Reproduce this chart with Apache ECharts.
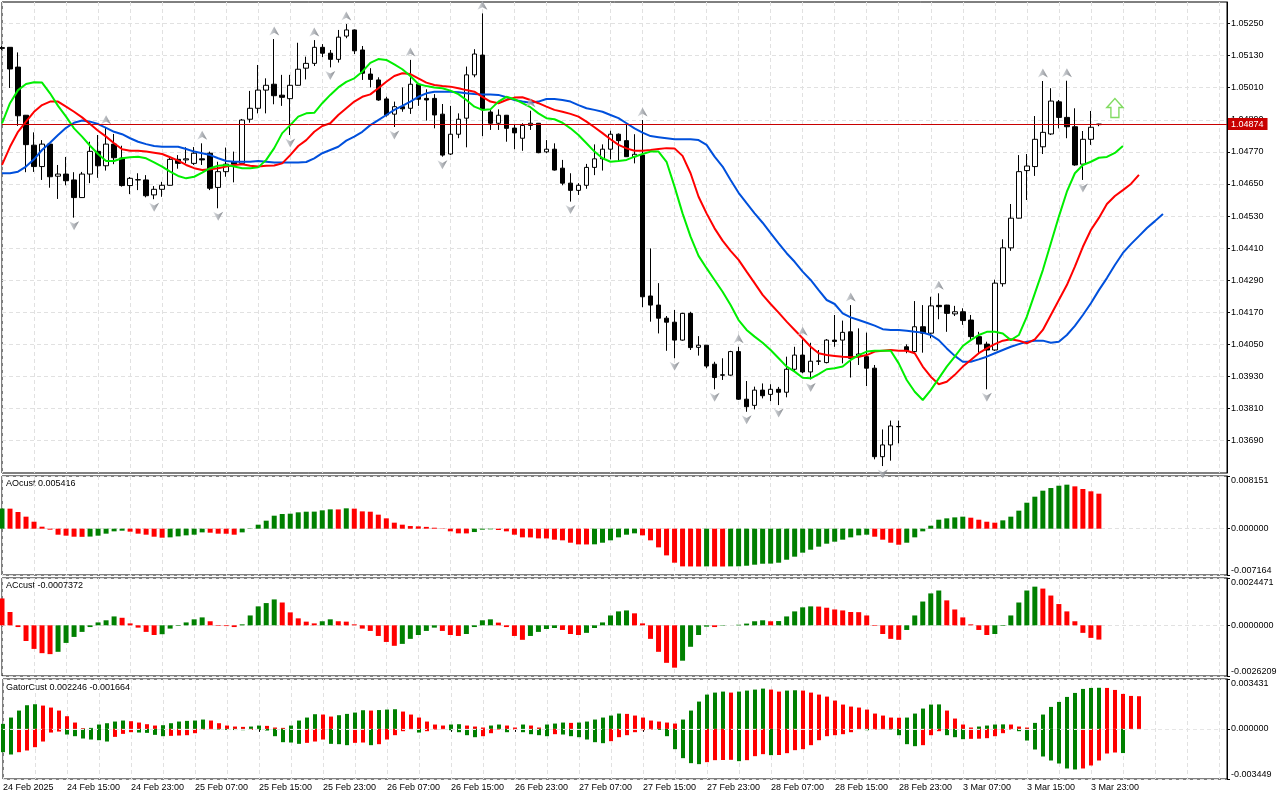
<!DOCTYPE html>
<html>
<head>
<meta charset="utf-8">
<script src="https://cdn.jsdelivr.net/npm/echarts/dist/echarts.min.js"></script>
<style>
  html, body { margin: 0; padding: 0; background: #fff; }
  #chart { width: 1280px; height: 800px; }
</style>
</head>
<body>
<div id="chart"></div>
<script>
// EURUSD H1, 24 Feb 07:00 .. 4 Mar 00:00 ; [open, high, low, close]
const ohlc = [
  [1.05157,1.05166,1.05151,1.05160],[1.05161,1.05162,1.05009,1.05080],[1.05087,1.05142,1.04867,1.04905],[1.04907,1.04908,1.04694,1.04797],[1.04795,1.04843,1.04695,1.04715],
  [1.04715,1.04814,1.04665,1.04799],[1.04799,1.04800,1.04636,1.04677],[1.04679,1.04721,1.04594,1.04687],[1.04687,1.04751,1.04645,1.04662],[1.04665,1.04694,1.04524,1.04599],
  [1.04599,1.04695,1.04598,1.04687],[1.04687,1.04808,1.04653,1.04772],[1.04772,1.04833,1.04673,1.04718],[1.04718,1.04860,1.04700,1.04799],[1.04799,1.04837,1.04724,1.04748],
  [1.04747,1.04793,1.04640,1.04644],[1.04644,1.04676,1.04612,1.04671],[1.04666,1.04690,1.04627,1.04665],[1.04665,1.04683,1.04600,1.04606],[1.04609,1.04642,1.04593,1.04630],
  [1.04630,1.04658,1.04602,1.04645],[1.04645,1.04752,1.04644,1.04742],[1.04742,1.04758,1.04707,1.04727],[1.04740,1.04787,1.04727,1.04744],[1.04727,1.04788,1.04721,1.04765],
  [1.04744,1.04802,1.04721,1.04740],[1.04765,1.04771,1.04627,1.04634],[1.04637,1.04733,1.04559,1.04696],[1.04696,1.04786,1.04677,1.04724],[1.04733,1.04771,1.04656,1.04724],
  [1.04727,1.04893,1.04726,1.04889],[1.04892,1.04998,1.04879,1.04933],[1.04933,1.05095,1.04914,1.05001],[1.05001,1.05045,1.04914,1.05019],[1.05023,1.05192,1.04948,1.04980],
  [1.04982,1.05058,1.04942,1.04974],[1.04969,1.05058,1.04833,1.05019],[1.05019,1.05178,1.05018,1.05079],[1.05083,1.05126,1.05041,1.05101],[1.05101,1.05188,1.05091,1.05161],
  [1.05161,1.05173,1.05124,1.05139],[1.05139,1.05151,1.05086,1.05116],[1.05116,1.05226,1.05104,1.05199],[1.05203,1.05248,1.05195,1.05226],[1.05226,1.05228,1.05136,1.05148],
  [1.05151,1.05166,1.05039,1.05064],[1.05061,1.05083,1.05011,1.05041],[1.05039,1.05049,1.04961,1.04964],[1.04968,1.04976,1.04902,1.04908],[1.04911,1.04958,1.04863,1.04939],
  [1.04939,1.05011,1.04920,1.04931],[1.04933,1.05114,1.04912,1.05023],[1.05023,1.05024,1.04942,1.04967],[1.04970,1.05004,1.04887,1.04964],[1.04970,1.04986,1.04858,1.04908],
  [1.04911,1.04949,1.04752,1.04758],[1.04762,1.04942,1.04758,1.04836],[1.04836,1.04914,1.04821,1.04892],[1.04896,1.05089,1.04787,1.05058],[1.05058,1.05154,1.05049,1.05136],
  [1.05132,1.05288,1.04829,1.04927],[1.04919,1.04929,1.04852,1.04877],[1.04877,1.04929,1.04852,1.04907],[1.04907,1.04908,1.04808,1.04858],[1.04859,1.04874,1.04780,1.04841],
  [1.04821,1.04877,1.04774,1.04869],[1.04869,1.04924,1.04852,1.04877],[1.04877,1.04878,1.04765,1.04767],[1.04770,1.04814,1.04765,1.04780],[1.04780,1.04802,1.04700,1.04702],
  [1.04709,1.04740,1.04645,1.04653],[1.04653,1.04690,1.04584,1.04626],[1.04626,1.04653,1.04609,1.04645],[1.04645,1.04725,1.04632,1.04712],[1.04712,1.04798,1.04683,1.04744],
  [1.04744,1.04798,1.04700,1.04780],[1.04780,1.04849,1.04742,1.04836],[1.04836,1.04839,1.04736,1.04812],[1.04812,1.04874,1.04751,1.04752],[1.04752,1.04836,1.04727,1.04761],
  [1.04758,1.04889,1.04189,1.04228],[1.04231,1.04409,1.04135,1.04197],[1.04197,1.04279,1.04091,1.04148],[1.04148,1.04156,1.04026,1.04133],[1.04133,1.04179,1.03998,1.04066],
  [1.04066,1.04168,1.04064,1.04166],[1.04166,1.04172,1.04029,1.04038],[1.04039,1.04081,1.04008,1.04047],[1.04047,1.04048,1.03961,1.03969],[1.03976,1.03985,1.03882,1.03926],
  [1.03936,1.03998,1.03917,1.03935],[1.03935,1.04026,1.03933,1.04023],[1.04023,1.04041,1.03842,1.03845],[1.03845,1.03913,1.03798,1.03817],[1.03822,1.03892,1.03807,1.03879],
  [1.03879,1.03904,1.03848,1.03858],[1.03863,1.03901,1.03838,1.03882],[1.03882,1.03891,1.03823,1.03871],[1.03871,1.04004,1.03852,1.03957],[1.03957,1.04041,1.03948,1.04010],
  [1.04010,1.04069,1.03942,1.03947],[1.03947,1.04056,1.03919,1.03987],[1.03988,1.04029,1.03973,1.03987],[1.03982,1.04070,1.03979,1.04066],[1.04066,1.04160,1.04041,1.04061],
  [1.04066,1.04139,1.03979,1.04095],[1.04097,1.04197,1.03926,1.03998],[1.04004,1.04110,1.03973,1.04014],[1.04004,1.04094,1.03894,1.03961],[1.03961,1.03973,1.03620,1.03630],
  [1.03630,1.03732,1.03595,1.03674],[1.03674,1.03765,1.03615,1.03745],[1.03743,1.03765,1.03680,1.03742],[1.04041,1.04050,1.04017,1.04026],[1.04023,1.04212,1.04017,1.04116],
  [1.04116,1.04197,1.04019,1.04092],[1.04092,1.04228,1.04073,1.04194],[1.04196,1.04241,1.04144,1.04191],[1.04197,1.04198,1.04097,1.04166],[1.04164,1.04194,1.04156,1.04172],
  [1.04172,1.04185,1.04123,1.04139],[1.04141,1.04160,1.04064,1.04079],[1.04079,1.04097,1.04014,1.04051],[1.04051,1.04060,1.03882,1.04029],[1.04029,1.04292,1.04026,1.04279],
  [1.04277,1.04443,1.04266,1.04411],[1.04411,1.04575,1.04400,1.04522],[1.04522,1.04758,1.04521,1.04696],[1.04700,1.04762,1.04590,1.04717],[1.04715,1.04904,1.04680,1.04817],
  [1.04789,1.05035,1.04762,1.04843],[1.04837,1.05008,1.04833,1.04960],[1.04957,1.04964,1.04858,1.04899],[1.04899,1.05036,1.04821,1.04864],[1.04864,1.04933,1.04718,1.04721],
  [1.04724,1.04848,1.04665,1.04817],[1.04817,1.04923,1.04796,1.04862],[1.04872,1.04875,1.04866,1.04874]
];

// alligator lines (already shifted: lips +3, teeth +5, jaw +8 bars)
const lips = [
  1.04877,1.04952,1.05001,1.05024,1.05030,1.05029,1.04989,1.04942,1.04902,1.04858,
  1.04827,1.04793,1.04762,1.04736,1.04736,1.04746,1.04750,1.04752,1.04746,1.04731,
  1.04715,1.04696,1.04680,1.04671,1.04677,1.04692,1.04709,1.04718,1.04721,1.04715,
  1.04709,1.04709,1.04712,1.04740,1.04784,1.04840,1.04870,1.04902,1.04914,1.04916,
  1.04952,1.04983,1.05011,1.05032,1.05045,1.05070,1.05103,1.05117,1.05114,1.05097,
  1.05079,1.05054,1.05024,1.05016,1.05011,1.05008,1.04999,1.04986,1.04964,1.04939,
  1.04927,1.04929,1.04958,1.04976,1.04967,1.04952,1.04937,1.04914,1.04896,1.04892,
  1.04879,1.04858,1.04833,1.04802,1.04771,1.04746,1.04733,1.04736,1.04740,1.04752,
  1.04762,1.04771,1.04771,1.04733,1.04640,1.04540,1.04453,1.04381,1.04335,1.04291,
  1.04247,1.04197,1.04141,1.04104,1.04079,1.04056,1.04029,1.03998,1.03967,1.03948,
  1.03925,1.03923,1.03939,1.03957,1.03961,1.03967,1.03992,1.04010,1.04023,1.04026,
  1.04026,1.04026,1.03979,1.03917,1.03873,1.03842,1.03879,1.03923,1.03967,1.04004,
  1.04044,1.04066,1.04085,1.04097,1.04097,1.04091,1.04066,1.04085,1.04154,1.04241,
  1.04328,1.04428,1.04528,1.04621,1.04690,1.04721,1.04733,1.04748,1.04751,1.04766,1.04792
];
const teeth = [
  1.04721,1.04789,1.04845,1.04883,1.04920,1.04945,1.04958,1.04958,1.04939,1.04920,
  1.04899,1.04874,1.04849,1.04827,1.04802,1.04780,1.04774,1.04774,1.04771,1.04767,
  1.04762,1.04750,1.04737,1.04721,1.04709,1.04702,1.04705,1.04709,1.04715,1.04721,
  1.04724,1.04718,1.04715,1.04718,1.04719,1.04727,1.04758,1.04792,1.04814,1.04845,
  1.04867,1.04877,1.04908,1.04933,1.04958,1.04976,1.04985,1.05008,1.05032,1.05054,
  1.05064,1.05061,1.05045,1.05029,1.05020,1.05016,1.05014,1.05008,1.05001,1.04995,
  1.04976,1.04958,1.04952,1.04964,1.04973,1.04974,1.04964,1.04952,1.04939,1.04927,
  1.04920,1.04912,1.04902,1.04883,1.04862,1.04840,1.04817,1.04796,1.04783,1.04774,
  1.04774,1.04777,1.04781,1.04784,1.04783,1.04755,1.04690,1.04602,1.04540,1.04484,
  1.04438,1.04400,1.04366,1.04322,1.04279,1.04235,1.04201,1.04169,1.04135,1.04104,
  1.04073,1.04041,1.04017,1.04010,1.04007,1.04004,1.04002,1.04004,1.04010,1.04023,
  1.04026,1.04029,1.04026,1.04026,1.04017,1.03967,1.03929,1.03901,1.03910,1.03936,
  1.03967,1.03992,1.04017,1.04035,1.04051,1.04064,1.04069,1.04064,1.04054,1.04069,
  1.04104,1.04160,1.04216,1.04272,1.04341,1.04415,1.04478,1.04523,1.04575,1.04605,
  1.04627,1.04650,1.04684
];
const jaw = [
  1.04690,1.04690,1.04696,1.04715,1.04742,1.04777,1.04804,1.04833,1.04860,1.04879,
  1.04887,1.04883,1.04874,1.04860,1.04845,1.04836,1.04821,1.04808,1.04799,1.04792,
  1.04789,1.04789,1.04789,1.04781,1.04771,1.04765,1.04758,1.04746,1.04736,1.04733,
  1.04733,1.04733,1.04736,1.04733,1.04730,1.04730,1.04730,1.04730,1.04732,1.04746,
  1.04765,1.04777,1.04789,1.04812,1.04827,1.04845,1.04870,1.04889,1.04908,1.04927,
  1.04942,1.04958,1.04976,1.04989,1.04995,1.04995,1.04995,1.04993,1.04989,1.04986,
  1.04985,1.04985,1.04983,1.04974,1.04964,1.04958,1.04954,1.04958,1.04968,1.04968,
  1.04964,1.04958,1.04945,1.04933,1.04927,1.04920,1.04908,1.04896,1.04877,1.04858,
  1.04842,1.04829,1.04825,1.04821,1.04817,1.04817,1.04817,1.04814,1.04796,1.04752,
  1.04715,1.04665,1.04617,1.04578,1.04540,1.04505,1.04466,1.04428,1.04391,1.04359,
  1.04322,1.04291,1.04253,1.04216,1.04201,1.04166,1.04151,1.04141,1.04131,1.04120,
  1.04107,1.04104,1.04104,1.04101,1.04097,1.04094,1.04085,1.04066,1.04035,1.04007,
  1.03985,1.03985,1.03994,1.04004,1.04017,1.04029,1.04041,1.04051,1.04060,1.04064,
  1.04064,1.04056,1.04060,1.04085,1.04119,1.04160,1.04204,1.04253,1.04298,1.04347,
  1.04392,1.04425,1.04455,1.04485,1.04511,1.04538
];

const upFractals = [13, 25, 34, 39, 43, 51, 60, 66, 80, 92, 100, 106, 117, 130, 133];
const downFractals = [9, 19, 27, 36, 41, 49, 55, 71, 84, 89, 93, 97, 101, 110, 123, 135];
const buySignals = [[139, 1.04934]];

const ao = [
  0.00312,0.0031,0.00258,0.00186,0.00108,0.00031,-0.00015,-0.00093,-0.00108,-0.00124,
  -0.00126,-0.00122,-0.00108,-0.00077,-0.00041,-0.00031,-0.00046,-0.00077,-0.00093,-0.00124,
  -0.00139,-0.00134,-0.00119,-0.00103,-0.00093,-0.00057,-0.00062,-0.00077,-0.00078,-0.00093,
  -0.00057,-0.00005,0.00062,0.00124,0.00201,0.00227,0.00232,0.00253,0.00263,0.00264,
  0.00284,0.00299,0.00298,0.00315,0.0031,0.00268,0.00263,0.00217,0.0016,0.00093,
  0.00062,0.00041,0.00036,0.00028,0.00015,-0.00005,-0.00041,-0.00072,-0.00073,-0.00052,
  -0.00015,-0.0001,-0.0002,-0.00041,-0.00093,-0.00134,-0.00135,-0.0015,-0.00151,-0.0017,
  -0.0018,-0.00217,-0.00243,-0.00244,-0.00242,-0.00217,-0.0018,-0.00134,-0.00093,-0.00072,
  -0.00103,-0.0018,-0.00289,-0.00413,-0.00526,-0.00583,-0.00584,-0.00585,-0.00583,-0.00584,
  -0.00585,-0.00583,-0.00582,-0.00573,-0.00557,-0.00542,-0.0054,-0.00526,-0.0048,-0.00433,
  -0.00371,-0.00325,-0.00278,-0.00232,-0.00201,-0.0017,-0.00134,-0.00103,-0.00093,-0.00124,
  -0.0017,-0.00217,-0.00248,-0.00217,-0.00134,-0.00041,0.00046,0.00139,0.0016,0.00175,
  0.00186,0.0017,0.00139,0.00108,0.00093,0.00129,0.00186,0.00279,0.00402,0.00495,
  0.00588,0.00629,0.00665,0.00681,0.00655,0.00614,0.00578,0.005416
];
const ac = [
  0.00139,0.00069,-0.00009,-0.00081,-0.00122,-0.00144,-0.00149,-0.00137,-0.00091,-0.0006,
  -0.00034,-0.00009,0.00015,0.00026,0.00046,0.00039,0.0001,-0.00012,-0.00034,-0.0005,
  -0.00046,-0.00017,-0.00003,0.00015,0.00031,0.00041,0.00021,-0.00003,-0.00004,-0.00009,
  0.00005,0.00051,0.00098,0.00115,0.00134,0.00118,0.00067,0.00036,0.00019,0.0001,
  0.00021,0.00031,0.00021,0.00019,0.00005,-0.00017,-0.00029,-0.00055,-0.00086,-0.00106,
  -0.00096,-0.0007,-0.0005,-0.00029,-0.00012,-0.00029,-0.0005,-0.00055,-0.00045,-0.00009,
  0.00026,0.00031,0.00014,-0.00009,-0.00055,-0.00075,-0.00055,-0.00034,-0.00019,-0.00014,
  -0.00024,-0.00045,-0.0005,-0.00039,-0.00014,0.00015,0.00051,0.00072,0.00077,0.00062,
  0.0001,-0.0007,-0.00137,-0.00194,-0.00219,-0.00183,-0.00111,-0.0005,-0.00007,-0.00009,
  -0.00002,0.0,0.00003,0.00009,0.00021,0.00026,0.00021,0.00022,0.00046,0.00072,
  0.00093,0.00098,0.00097,0.00091,0.00082,0.00077,0.00069,0.00068,0.00051,-0.00003,
  -0.00045,-0.0007,-0.00075,-0.00024,0.00051,0.00123,0.00165,0.0018,0.00129,0.00082,
  0.00041,0.00005,-0.00024,-0.0005,-0.00045,-0.00003,0.00051,0.00118,0.0018,0.002,
  0.0019,0.00154,0.0011,0.00072,0.00021,-0.00039,-0.00065,-0.0007372
];
const gatorUp = [
  0.000344,0.000779,0.00126,0.001626,0.001695,0.001603,0.001466,0.00126,0.00087,0.000435,
  0.000046,0.000069,0.000298,0.000389,0.000504,0.000573,0.000527,0.000435,0.000321,0.000229,
  0.000252,0.000389,0.000504,0.00055,0.000573,0.000641,0.000573,0.000389,0.000229,0.00016,
  0.000137,0.00016,0.000229,0.000206,0.000092,0.000069,0.000229,0.000573,0.000779,0.001008,
  0.000985,0.000847,0.000939,0.00103,0.001122,0.001282,0.00126,0.001294,0.001328,0.001351,
  0.001191,0.000985,0.000779,0.000504,0.000298,0.000229,0.000298,0.000321,0.000229,0.00016,
  0.000092,0.000229,0.000298,0.000229,0.000092,0.000298,0.000229,0.000092,0.000298,0.000366,
  0.000435,0.000412,0.000435,0.000504,0.000641,0.000779,0.000916,0.001053,0.00103,0.000916,
  0.000779,0.000573,0.000504,0.000435,0.000366,0.000641,0.00126,0.001878,0.002359,0.002496,
  0.002565,0.002496,0.002565,0.002634,0.002702,0.002771,0.002702,0.002565,0.002634,0.002656,
  0.002634,0.002496,0.002359,0.002221,0.001947,0.001672,0.001534,0.001466,0.001328,0.001053,
  0.000916,0.000779,0.000767,0.000779,0.001053,0.001397,0.001672,0.001683,0.00126,0.00071,
  0.000298,0.000092,0.00016,0.000229,0.000298,0.000309,0.000298,0.00016,0.000092,0.000412,
  0.000985,0.001511,0.001855,0.002198,0.002473,0.002748,0.002817,0.002828,0.002817,0.002679,
  0.002405,0.002267,0.002246
];
const gatorDown = [
  -0.001603,-0.001763,-0.001603,-0.001489,-0.00126,-0.00087,-0.000252,-0.000183,-0.000389,-0.000504,
  -0.000664,-0.000733,-0.000779,-0.00087,-0.00055,-0.000344,-0.000229,-0.000252,-0.000275,-0.000412,
  -0.000504,-0.000481,-0.000458,-0.000435,-0.000298,-0.000046,-0.000023,-0.000046,-0.000069,-0.00008,
  -0.000092,-0.000069,-0.00008,-0.000115,-0.000504,-0.000916,-0.000939,-0.00103,-0.000962,-0.00087,
  -0.000733,-0.00103,-0.001053,-0.001122,-0.000962,-0.000939,-0.001122,-0.001053,-0.000733,-0.000435,
  -0.00016,-0.000046,-0.000252,-0.00016,-0.000046,-0.000023,-0.000092,-0.000229,-0.000435,-0.000573,
  -0.000504,-0.000298,-0.000046,-0.000229,-0.000046,-0.000229,-0.000366,-0.000435,-0.000504,-0.000366,
  -0.000389,-0.000504,-0.000573,-0.000733,-0.000916,-0.000985,-0.000847,-0.000573,-0.000435,-0.000229,
  -0.000092,-0.000046,-0.000069,-0.000504,-0.001397,-0.002015,-0.002359,-0.002427,-0.00229,-0.002153,
  -0.002141,-0.00213,-0.002221,-0.002153,-0.001878,-0.00174,-0.001809,-0.001798,-0.001672,-0.001466,
  -0.001397,-0.001122,-0.000779,-0.000504,-0.000435,-0.000366,-0.000229,-0.000046,-0.000092,-0.000046,
  -0.000023,-0.000046,-0.000435,-0.001053,-0.001191,-0.001122,-0.000435,-0.00016,-0.000435,-0.000573,
  -0.00071,-0.000687,-0.000676,-0.000641,-0.000504,-0.000298,-0.000046,-0.00016,-0.000802,-0.00142,
  -0.001901,-0.002176,-0.002382,-0.002725,-0.002794,-0.002725,-0.002519,-0.002176,-0.001695,-0.001626,
  -0.001664
];

// axis ticks
const priceTicks = [1.03690, 1.03810, 1.03930, 1.04050, 1.04170, 1.04290, 1.04410,
  1.04530, 1.04650, 1.04770, 1.04890, 1.05010, 1.05130, 1.05250];
const aoRange = [-0.007164, 0.008151];
const acRange = [-0.0026209, 0.0024471];
const gatorRange = [-0.003449, 0.003431];
const timeLabels = ['24 Feb 2025', '24 Feb 15:00', '24 Feb 23:00', '25 Feb 07:00', '25 Feb 15:00',
  '25 Feb 23:00', '26 Feb 07:00', '26 Feb 15:00', '26 Feb 23:00', '27 Feb 07:00', '27 Feb 15:00',
  '27 Feb 23:00', '28 Feb 07:00', '28 Feb 15:00', '28 Feb 23:00', '3 Mar 07:00', '3 Mar 15:00', '3 Mar 23:00'];

const SLOTS = 154;          // bars + empty space on the right
const LABEL_STEP = 8;
const GREEN = '#008000', RED = '#ff0000';
const FONT = '"Liberation Sans", Arial, sans-serif';

const slots = Array.from({ length: SLOTS }, (_, i) => String(i));
const candleData = ohlc.map(r => [r[0], r[3], r[2], r[1]]);
const lastClose = ohlc[ohlc.length - 1][3];

function rising(arr, i, first, abs) {
  if (i === 0) return first;
  const a = abs ? Math.abs(arr[i]) : arr[i];
  const b = abs ? Math.abs(arr[i - 1]) : arr[i - 1];
  return a > b;
}

const chart = echarts.init(document.getElementById('chart'), null, { renderer: 'canvas' });

const gridPos = [
  { top: 2, height: 471 },
  { top: 476, height: 99 },
  { top: 578, height: 98 },
  { top: 679, height: 100 }
];

const labelInterval = idx => idx % LABEL_STEP === 0 && idx / LABEL_STEP < timeLabels.length;

const xAxes = gridPos.map((g, i) => ({
  type: 'category',
  gridIndex: i,
  data: slots,
  boundaryGap: false,
  axisLine: { show: false },
  axisTick: { show: i === 3, interval: labelInterval, length: 3, lineStyle: { color: '#000' } },
  axisLabel: {
    show: i === 3,
    interval: labelInterval,
    formatter: (v, idx) => timeLabels[idx / LABEL_STEP] || '',
    align: 'left',
    margin: 4,
    color: '#000',
    fontFamily: FONT,
    fontSize: 9
  },
  splitLine: {
    show: true,
    interval: idx => idx % 4 === 0,
    lineStyle: { color: '#e1e1e1', type: [4, 3], width: 1 }
  }
}));

function subAxis(i, range, digits) {
  const vals = [range[0], 0, range[1]];
  return {
    type: 'value',
    gridIndex: i,
    position: 'right',
    min: range[0],
    max: range[1],
    axisLine: { show: true, lineStyle: { color: '#000' } },
    axisTick: { show: true, length: 3, customValues: vals, lineStyle: { color: '#000' } },
    axisLabel: {
      customValues: vals,
      formatter: v => v.toFixed(digits),
      color: '#000', fontFamily: FONT, fontSize: 9, margin: 4,
      verticalAlignMinLabel: 'bottom',
      verticalAlignMaxLabel: 'top'
    },
    splitLine: { show: true, lineStyle: { color: '#e1e1e1', type: [4, 3] } }
  };
}

const yAxes = [
  {
    type: 'value',
    gridIndex: 0,
    position: 'right',
    min: 1.035690,
    max: 1.053305,
    axisLine: { show: true, lineStyle: { color: '#000' } },
    axisTick: { show: true, length: 3, customValues: priceTicks, lineStyle: { color: '#000' } },
    axisLabel: {
      customValues: priceTicks,
      formatter: v => v.toFixed(5),
      color: '#000', fontFamily: FONT, fontSize: 9, margin: 4
    },
    splitLine: { show: true, lineStyle: { color: '#e1e1e1', type: [4, 3] } }
  },
  subAxis(1, aoRange, 6),
  subAxis(2, acRange, 7),
  subAxis(3, gatorRange, 6)
];

const upArrow = 'path://M0,-5L5,5L0,2L-5,5Z';
const downArrow = 'path://M0,5L5,-5L0,-2L-5,-5Z';
const fractalColor = {
  type: 'linear', x: 0, y: 0, x2: 1, y2: 0,
  colorStops: [{ offset: 0, color: '#d4d8dc' }, { offset: 0.5, color: '#a0a4aa' }, { offset: 1, color: '#686c72' }]
};

chart.setOption({
  animation: false,
  backgroundColor: '#fff',
  grid: gridPos.map(g => ({
    left: 2, right: 53, top: g.top, height: g.height,
    show: true, borderColor: '#000', borderWidth: 1, backgroundColor: '#fff'
  })),
  xAxis: xAxes,
  yAxis: yAxes,
  graphic: [
    { type: 'text', left: 6, top: 479, style: { text: 'AOcust ' + ao[ao.length - 1].toFixed(6), fill: '#000', font: '9px ' + FONT } },
    { type: 'text', left: 6, top: 581, style: { text: 'ACcust ' + ac[ac.length - 1].toFixed(7), fill: '#000', font: '9px ' + FONT } },
    { type: 'text', left: 6, top: 683, style: {
      text: 'GatorCust ' + gatorUp[gatorUp.length - 1].toFixed(6) + ' ' + gatorDown[gatorDown.length - 1].toFixed(6),
      fill: '#000', font: '9px ' + FONT } }
  ],
  series: [
    {
      type: 'candlestick',
      xAxisIndex: 0, yAxisIndex: 0,
      data: candleData,
      barWidth: 5,
      z: 2,
      itemStyle: {
        color: '#ffffff', color0: '#000000',
        borderColor: '#000000', borderColor0: '#000000', borderWidth: 1
      }
    },
    {
      type: 'line', xAxisIndex: 0, yAxisIndex: 0, data: jaw, showSymbol: false, z: 3,
      lineStyle: { color: '#0050dc', width: 2 },
      markLine: {
        silent: true,
        symbol: 'none',
        animation: false,
        precision: 5,
        data: [{ yAxis: lastClose }],
        lineStyle: { color: '#c80000', type: 'solid', width: 1 },
        label: {
          show: true, position: 'end', distance: 1,
          formatter: () => lastClose.toFixed(5),
          color: '#fff', backgroundColor: '#c80000',
          fontFamily: FONT, fontSize: 9, padding: [2, 4, 1, 3]
        }
      }
    },
    { type: 'line', xAxisIndex: 0, yAxisIndex: 0, data: teeth, showSymbol: false, z: 3,
      lineStyle: { color: '#ff0000', width: 2 } },
    { type: 'line', xAxisIndex: 0, yAxisIndex: 0, data: lips, showSymbol: false, z: 3,
      lineStyle: { color: '#00ee00', width: 2 } },
    {
      type: 'scatter', xAxisIndex: 0, yAxisIndex: 0, z: 4,
      data: upFractals.map(i => [i, ohlc[i][1]]),
      symbol: upArrow, symbolSize: [10, 9], symbolOffset: [0, -8],
      itemStyle: { color: fractalColor }
    },
    {
      type: 'scatter', xAxisIndex: 0, yAxisIndex: 0, z: 4,
      data: downFractals.map(i => [i, ohlc[i][2]]),
      symbol: downArrow, symbolSize: [10, 9], symbolOffset: [0, 8],
      itemStyle: { color: fractalColor }
    },
    {
      type: 'scatter', xAxisIndex: 0, yAxisIndex: 0, z: 4,
      data: buySignals,
      symbol: 'path://M0,-10L8,-1L4,-1L4,9L-4,9L-4,-1L-8,-1Z',
      symbolSize: [16, 19],
      itemStyle: { color: 'rgba(255,255,255,0)', borderColor: '#62d23a', borderWidth: 1.5 }
    },
    {
      type: 'bar', xAxisIndex: 1, yAxisIndex: 1, data: ao, barWidth: 5,
      itemStyle: { color: p => rising(ao, p.dataIndex, true, false) ? GREEN : RED }
    },
    {
      type: 'bar', xAxisIndex: 2, yAxisIndex: 2, data: ac, barWidth: 5,
      itemStyle: { color: p => rising(ac, p.dataIndex, false, false) ? GREEN : RED }
    },
    {
      type: 'bar', xAxisIndex: 3, yAxisIndex: 3, data: gatorUp, barWidth: 4, barGap: '-100%',
      itemStyle: { color: p => rising(gatorUp, p.dataIndex, true, true) ? GREEN : RED }
    },
    {
      type: 'bar', xAxisIndex: 3, yAxisIndex: 3, data: gatorDown, barWidth: 4, barGap: '-100%',
      itemStyle: { color: p => rising(gatorDown, p.dataIndex, true, true) ? GREEN : RED },
      markLine: {
        silent: true, symbol: 'none', animation: false,
        data: [{ yAxis: 0 }],
        lineStyle: { color: '#e6e6e6', type: [4, 3], width: 1 },
        label: { show: false }
      }
    }
  ]
});
</script>
</body>
</html>
